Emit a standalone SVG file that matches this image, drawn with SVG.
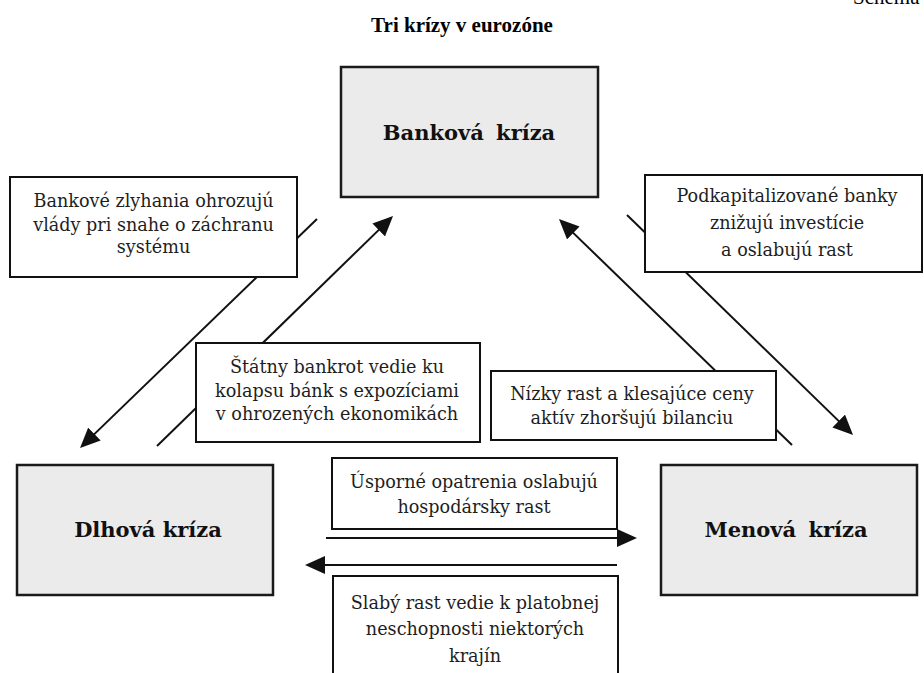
<svg xmlns="http://www.w3.org/2000/svg" width="924" height="673" viewBox="0 0 924 673">
  <style>
    .main rect { fill: #ebebeb; stroke: #1a1a1a; stroke-width: 2.5; }
    .main text { font-family: "DejaVu Serif", "Liberation Serif", serif; font-weight: bold; font-size: 21px; fill: #111; text-anchor: middle; }
    .lbl rect { fill: #ffffff; stroke: #111; stroke-width: 2; }
    .lbl text { font-family: "DejaVu Serif", "Liberation Serif", serif; font-size: 17.6px; fill: #1e1e1e; text-anchor: middle; }
    .conn line { stroke: #111; stroke-width: 2; fill: none; marker-end: url(#ah); }
    .title { font-family: "Liberation Serif", "Times New Roman", serif; font-weight: bold; font-size: 21px; fill: #000; text-anchor: middle; }
    .hdr { font-family: "Liberation Serif", "Times New Roman", serif; font-size: 21px; fill: #000; }
  </style>
  <defs>
    <marker id="ah" viewBox="0 0 20 18" refX="12" refY="9" markerWidth="20" markerHeight="18" markerUnits="userSpaceOnUse" orient="auto">
      <path d="M0,0 L20,9 L0,18 z" fill="#111"/>
    </marker>
  </defs>
  <rect x="0" y="0" width="924" height="673" fill="#ffffff"/>
  <text class="hdr" x="853" y="4">Schéma</text>
  <text class="title" x="462" y="32">Tri krízy v eurozóne</text>

  <g id="connectors" class="conn">
    <line x1="317" y1="219" x2="85.8" y2="442.4"/>
    <line x1="157" y1="446" x2="387.3" y2="221.6"/>
    <line x1="792" y1="445" x2="564.7" y2="224.6"/>
    <line x1="627" y1="215" x2="847.3" y2="429.4"/>
    <line x1="326" y1="538" x2="629" y2="538"/>
    <line x1="617" y1="565" x2="313" y2="565"/>
  </g>

  <g id="bankova-kriza" class="main">
    <rect x="341" y="67" width="257" height="130"/>
    <text x="469" y="140" word-spacing="5">Banková kríza</text>
  </g>
  <g id="dlhova-kriza" class="main">
    <rect x="17" y="465" width="256" height="130"/>
    <text x="148" y="537">Dlhová kríza</text>
  </g>
  <g id="menova-kriza" class="main">
    <rect x="661" y="465" width="256" height="130"/>
    <text x="786" y="537" word-spacing="5">Menová kríza</text>
  </g>

  <g id="lbl-bankove-zlyhania" class="lbl">
    <rect x="10" y="177" width="287" height="100"/>
    <text x="153.5" y="207">Bankové zlyhania ohrozujú</text>
    <text x="153.5" y="231">vlády pri snahe o záchranu</text>
    <text x="153.5" y="253">systému</text>
  </g>
  <g id="lbl-podkapitalizovane" class="lbl">
    <rect x="645" y="175" width="277" height="97"/>
    <text x="787" y="202">Podkapitalizované banky</text>
    <text x="787" y="229">znižujú investície</text>
    <text x="787" y="256">a oslabujú rast</text>
  </g>
  <g id="lbl-statny-bankrot" class="lbl">
    <rect x="196" y="343" width="284" height="99"/>
    <text x="337" y="373">Štátny bankrot vedie ku</text>
    <text x="337" y="397">kolapsu bánk s expozíciami</text>
    <text x="337" y="420">v ohrozených ekonomikách</text>
  </g>
  <g id="lbl-nizky-rast" class="lbl">
    <rect x="491" y="371" width="285" height="69"/>
    <text x="632" y="400">Nízky rast a klesajúce ceny</text>
    <text x="632" y="424">aktív zhoršujú bilanciu</text>
  </g>
  <g id="lbl-usporne" class="lbl">
    <rect x="332" y="458" width="285" height="71"/>
    <text x="474" y="488">Úsporné opatrenia oslabujú</text>
    <text x="474" y="513">hospodársky rast</text>
  </g>
  <g id="lbl-slaby-rast" class="lbl">
    <rect x="333" y="576" width="285" height="110"/>
    <text x="475" y="609">Slabý rast vedie k platobnej</text>
    <text x="475" y="635">neschopnosti niektorých</text>
    <text x="475" y="662">krajín</text>
  </g>
</svg>
